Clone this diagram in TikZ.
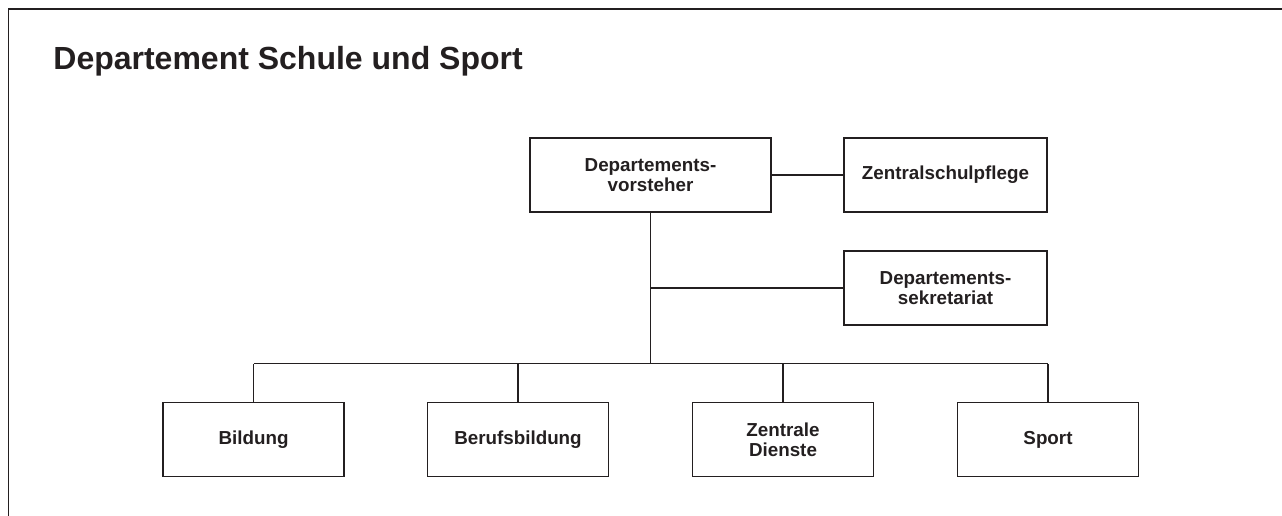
\documentclass[tikz,border=0pt]{standalone}
\usepackage{fontspec}
\setmainfont{Liberation Sans}
\definecolor{ink}{HTML}{231F20}
\tikzset{
  orgbox/.style={draw=ink, line width=0.95pt, text=ink, align=center, inner sep=0pt,
    minimum height=37pt, font=\fontsize{9.4}{10.2}\selectfont\bfseries},
  wide/.style={minimum width=120.5pt},
  mid/.style={minimum width=101.5pt},
  low/.style={minimum width=90.5pt},
  conn/.style={draw=ink, line width=0.9pt}
}
\begin{document}
\begin{tikzpicture}[x=0.5pt,y=-0.5pt]
\useasboundingbox (0,0) rectangle (1282,515);
\begin{scope}
\clip (0,0) rectangle (1282,515);
\draw[ink, line width=0.8pt] (8.5,9) rectangle (1320,560);
\end{scope}
\node[anchor=base west, text=ink, inner sep=0pt, font=\fontsize{16}{19}\selectfont\bfseries] (title) at (53,69) {Departement Schule und Sport};
\node[orgbox, wide] (dv) at (650.5,175) {Departements-\\vorsteher};
\node[orgbox, mid] (zs) at (945.5,175) {Zentralschulpflege};
\node[orgbox, mid] (ds) at (945.5,288) {Departements-\\sekretariat};
\node[orgbox, low] (bi) at (253.5,439.5) {Bildung};
\node[orgbox, low] (bb) at (518,439.5) {Berufsbildung};
\node[orgbox, low] (zd) at (783,439.5) {Zentrale\\Dienste};
\node[orgbox, low] (sp) at (1048,439.5) {Sport};
\coordinate (bus) at (650.5,363.5);
\draw[conn] (dv.east) -- (zs.west);
\draw[conn] (dv.south) -- (bus);
\draw[conn] (ds.west) -- (ds.west -| dv.south);
\draw[conn] (bi.north |- bus) -- (sp.north |- bus);
\foreach \n in {bi,bb,zd,sp} \draw[conn] (\n.north) -- (\n.north |- bus);
\end{tikzpicture}
\end{document}
